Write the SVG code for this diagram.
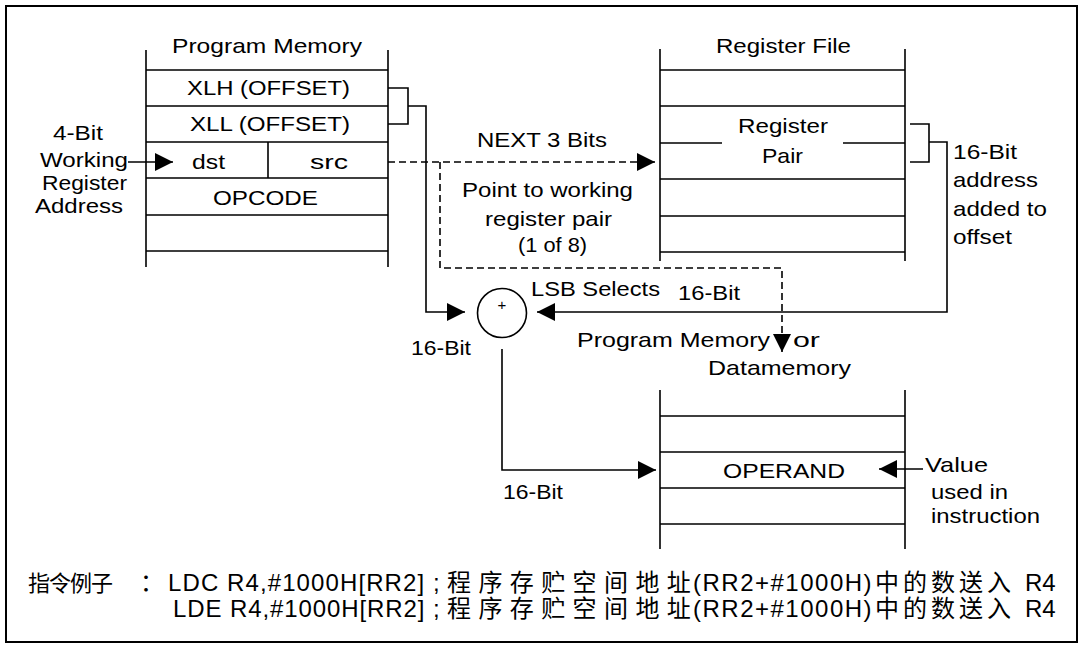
<svg xmlns="http://www.w3.org/2000/svg" width="1082" height="648" viewBox="0 0 1082 648">
<style>
.ln{fill:none;stroke:#000;stroke-width:1.6}
.dash{fill:none;stroke:#000;stroke-width:1.6;stroke-dasharray:7 4}
.t{font-family:"Liberation Sans",Arial,sans-serif;font-size:21px;fill:#000}
.cn{font-family:"Liberation Sans","Noto Sans CJK SC",sans-serif;font-size:24px;fill:#000}
</style>
<defs>
<marker id="arr" markerUnits="userSpaceOnUse" markerWidth="19" markerHeight="19" refX="18" refY="9" orient="auto" overflow="visible">
<path d="M0,0 L18,9 L0,18 Z" fill="#000" stroke="none"/>
</marker>
</defs>
<rect x="0" y="0" width="1082" height="648" fill="#fff"/>
<rect x="6" y="6" width="1071" height="636" fill="none" stroke="#000" stroke-width="2"/>

<g id="program-memory">
<path class="ln" d="M146,50V267M388,50V267M146,70H388M146,106H388M146,142H388M146,178H388M146,215H388M146,251H388M268,142V178"/>
<text class="t" x="172" y="53" textLength="190" lengthAdjust="spacingAndGlyphs">Program Memory</text>
<text class="t" x="187" y="95" textLength="163" lengthAdjust="spacingAndGlyphs">XLH (OFFSET)</text>
<text class="t" x="190" y="131" textLength="160" lengthAdjust="spacingAndGlyphs">XLL (OFFSET)</text>
<text class="t" x="192" y="169" textLength="33" lengthAdjust="spacingAndGlyphs">dst</text>
<text class="t" x="310" y="169" textLength="38" lengthAdjust="spacingAndGlyphs">src</text>
<text class="t" x="213" y="205" textLength="105" lengthAdjust="spacingAndGlyphs">OPCODE</text>
</g>

<g id="working-register-label">
<text class="t" x="53" y="140" textLength="50" lengthAdjust="spacingAndGlyphs">4-Bit</text>
<text class="t" x="40" y="167" textLength="88" lengthAdjust="spacingAndGlyphs">Working</text>
<text class="t" x="42" y="190" textLength="85" lengthAdjust="spacingAndGlyphs">Register</text>
<text class="t" x="35" y="213" textLength="88" lengthAdjust="spacingAndGlyphs">Address</text>
</g>

<g id="register-file">
<path class="ln" d="M660,49V261M905,49V261M660,70H905M660,106H905M660,179H905M660,216H905M660,252H905M660,143H722M843,143H905"/>
<text class="t" x="716" y="53" textLength="135" lengthAdjust="spacingAndGlyphs">Register File</text>
<text class="t" x="738" y="133" textLength="90" lengthAdjust="spacingAndGlyphs">Register</text>
<text class="t" x="762" y="163" textLength="41" lengthAdjust="spacingAndGlyphs">Pair</text>
</g>

<g id="address-label">
<text class="t" x="953" y="159" textLength="64" lengthAdjust="spacingAndGlyphs">16-Bit</text>
<text class="t" x="953" y="187" textLength="85" lengthAdjust="spacingAndGlyphs">address</text>
<text class="t" x="953" y="216" textLength="94" lengthAdjust="spacingAndGlyphs">added to</text>
<text class="t" x="953" y="244" textLength="59" lengthAdjust="spacingAndGlyphs">offset</text>
</g>

<g id="pointer-label">
<text class="t" x="477" y="147" textLength="130" lengthAdjust="spacingAndGlyphs">NEXT 3 Bits</text>
<text class="t" x="462" y="197" textLength="171" lengthAdjust="spacingAndGlyphs">Point to working</text>
<text class="t" x="485" y="226" textLength="127" lengthAdjust="spacingAndGlyphs">register pair</text>
<text class="t" x="518" y="252" textLength="69" lengthAdjust="spacingAndGlyphs">(1 of 8)</text>
</g>

<g id="adder">
<circle cx="502" cy="313" r="24.5" class="ln"/>
<text x="502" y="310" text-anchor="middle" fill="#000" style="font-family:'Liberation Sans',Arial,sans-serif;font-size:15px">+</text>
</g>

<g id="adder-labels">
<text class="t" x="531" y="296" textLength="129" lengthAdjust="spacingAndGlyphs">LSB Selects</text>
<text class="t" x="678" y="300" textLength="62" lengthAdjust="spacingAndGlyphs">16-Bit</text>
<text class="t" x="411" y="355" textLength="60" lengthAdjust="spacingAndGlyphs">16-Bit</text>
<text class="t" x="577" y="347" textLength="193" lengthAdjust="spacingAndGlyphs">Program Memory</text>
<text class="t" x="793" y="347" textLength="27" lengthAdjust="spacingAndGlyphs">or</text>
<text class="t" x="708" y="375" textLength="143" lengthAdjust="spacingAndGlyphs">Datamemory</text>
<text class="t" x="503" y="499" textLength="60" lengthAdjust="spacingAndGlyphs">16-Bit</text>
</g>

<g id="data-memory">
<path class="ln" d="M660,390V549M905,390V549M660,416H905M660,452H905M660,488H905M660,524H905"/>
<text class="t" x="723" y="478" textLength="122" lengthAdjust="spacingAndGlyphs">OPERAND</text>
</g>

<g id="value-label">
<text class="t" x="925" y="472" textLength="63" lengthAdjust="spacingAndGlyphs">Value</text>
<text class="t" x="931" y="499" textLength="77" lengthAdjust="spacingAndGlyphs">used in</text>
<text class="t" x="931" y="523" textLength="109" lengthAdjust="spacingAndGlyphs">instruction</text>
</g>

<g id="connectors">
<path class="ln" d="M128,162H173" marker-end="url(#arr)"/>
<path class="ln" d="M388,88H408V124H388M408,106H426V312H465" marker-end="url(#arr)"/>
<path class="dash" d="M388,162H655" marker-end="url(#arr)"/>
<path class="dash" d="M440,162V268H782V352" marker-end="url(#arr)"/>
<path class="ln" d="M910,124H929V162H910M929,142H947V312H537" marker-end="url(#arr)"/>
<path class="ln" d="M502,349V470H656" marker-end="url(#arr)"/>
<path class="ln" d="M923,469H879" marker-end="url(#arr)"/>
</g>

<g id="example-text">
<text class="cn" y="591"><tspan x="28" style="font-size:22px" letter-spacing="-1">指令例子</tspan><tspan x="140">：</tspan><tspan x="168" letter-spacing="1.1">LDC R4,#1000H[RR2] ;</tspan><tspan x="447" letter-spacing="7.4">程序存贮空间地址</tspan><tspan x="693" letter-spacing="1.5">(RR2+#1000H)</tspan><tspan x="875" letter-spacing="4">中的数送入</tspan><tspan x="1025">R4</tspan></text>
<text class="cn" y="617"><tspan x="173" letter-spacing="0.9">LDE R4,#1000H[RR2] ;</tspan><tspan x="447" letter-spacing="7.4">程序存贮空间地址</tspan><tspan x="693" letter-spacing="1.5">(RR2+#1000H)</tspan><tspan x="875" letter-spacing="4">中的数送入</tspan><tspan x="1025">R4</tspan></text>
</g>
</svg>
